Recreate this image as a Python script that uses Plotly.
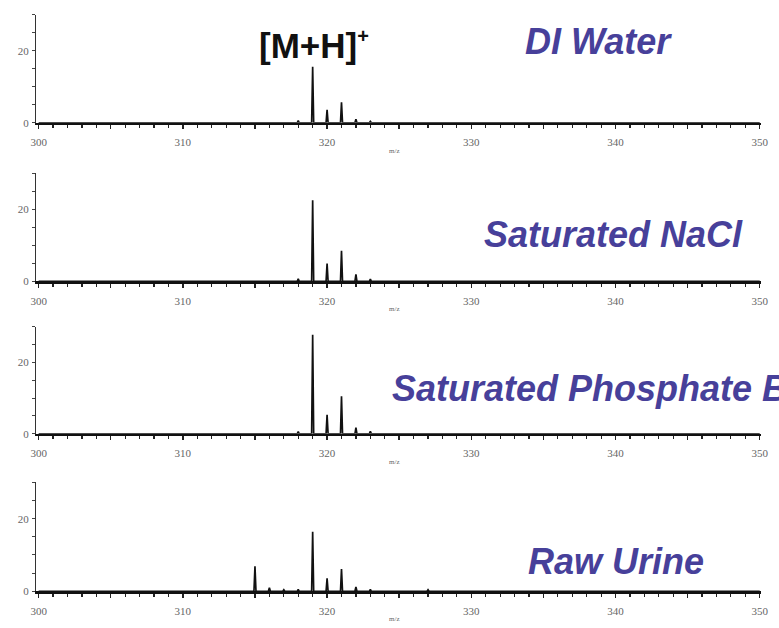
import plotly.graph_objects as go

# ---------------- data ----------------
panel_names = ["DI Water", "Saturated NaCl", "Saturated Phosphate Buffer", "Raw Urine"]

mz_water = [318, 319, 320, 321, 322, 323]
int_water = [0.6, 15.6, 3.6, 5.7, 1.0, 0.4]

mz_nacl = [318, 319, 320, 321, 322, 323]
int_nacl = [0.7, 22.5, 4.9, 8.5, 1.9, 0.6]

mz_phos = [318, 319, 320, 321, 322, 323]
int_phos = [0.6, 27.8, 5.3, 10.5, 1.7, 0.7]

mz_urine = [315, 316, 317, 318, 319, 320, 321, 322, 323, 327]
int_urine = [6.9, 1.0, 0.4, 0.5, 16.4, 3.6, 6.1, 1.2, 0.5, 0.4]

x_tickvals = [300, 305, 310, 315, 320, 325, 330, 335, 340, 345, 350]
x_ticktext = ["300", "", "310", "", "320", "", "330", "", "340", "", "350"]
y_tickvals = [0, 5, 10, 15, 20, 25, 30]
y_ticktext = ["0", "", "", "", "20", "", ""]

series = [(mz_water, int_water), (mz_nacl, int_nacl), (mz_phos, int_phos), (mz_urine, int_urine)]

# ---------------- layout geometry ----------------
W, H = 779, 628
x_dom = [31 / W, 768 / W]
panels_px = [(15, 124), (175, 284), (330, 438), (487, 597)]  # (top, baseline) in px
label_pos = [(603, 42), (618, 237), (391, 392), (620, 567)]
label_anchor = ["center", "center", "left", "center"]
LABEL_COLOR = "#47409a"

fig = go.Figure()
HW = 0.07  # half width of a stick peak in m/z units

for i, (mz, inten) in enumerate(series):
    xs, ys = [300], [0]
    for m, h in zip(mz, inten):
        xs += [m - HW, m, m + HW]
        ys += [0, h, 0]
    xs.append(350)
    ys.append(0)
    n = "" if i == 0 else str(i + 1)
    fig.add_trace(go.Scatter(x=xs, y=ys, mode="lines",
                             line=dict(color="#111111", width=1.7),
                             xaxis="x" + n, yaxis="y" + n,
                             hoverinfo="skip", showlegend=False))

layout = dict(width=W, height=H, margin=dict(l=0, r=0, t=0, b=0),
              paper_bgcolor="white", plot_bgcolor="white", showlegend=False)

tickfont = dict(family="Liberation Serif, Times New Roman, serif", size=11, color="#666666")
annotations = []
for i, (top, base) in enumerate(panels_px):
    n = "" if i == 0 else str(i + 1)
    ydom = [1 - base / H, 1 - top / H]
    layout["xaxis" + n] = dict(domain=x_dom, range=[299.85, 350.1], anchor="y" + n,
                               showline=True, linecolor="#111111", linewidth=2.4,
                               showgrid=False, zeroline=False,
                               tickmode="array", tickvals=x_tickvals, ticktext=x_ticktext,
                               ticks="outside", ticklen=4, tickwidth=1.4, tickcolor="#222222",
                               minor=dict(dtick=1, tick0=300, ticks="outside", ticklen=3,
                                          tickwidth=1.2, tickcolor="#222222", showgrid=False),
                               ticklabelstandoff=4,
                               tickfont=tickfont, fixedrange=True)
    layout["yaxis" + n] = dict(domain=ydom, range=[0, 30], anchor="x" + n,
                               showline=True, linecolor="#333333", linewidth=1.5,
                               showgrid=False, zeroline=False,
                               tickmode="array", tickvals=y_tickvals, ticktext=y_ticktext,
                               ticks="outside", ticklen=3, tickwidth=1, tickcolor="#444444",
                               ticklabelstandoff=1,
                               tickfont=tickfont, fixedrange=True)
    # m/z axis label
    annotations.append(dict(text="m/z", x=395 / W, y=1 - (base + 28) / H,
                            xref="paper", yref="paper", showarrow=False,
                            font=dict(family="Liberation Serif, serif", size=7, color="#666666"),
                            xanchor="center", yanchor="middle"))
    # sample label
    lx, ly = label_pos[i]
    annotations.append(dict(text="<b><i>" + panel_names[i] + "</i></b>",
                            x=lx / W, y=1 - ly / H, xref="paper", yref="paper",
                            showarrow=False, xanchor=label_anchor[i], yanchor="middle",
                            font=dict(family="Liberation Sans, Arial, sans-serif",
                                      size=36, color=LABEL_COLOR)))

annotations.append(dict(text="<b>[M+H]<sup><span style='font-size:20px'>+</span></sup></b>",
                        x=313 / W, y=1 - 45 / H,
                        xref="paper", yref="paper", showarrow=False,
                        xanchor="center", yanchor="middle",
                        font=dict(family="Liberation Sans, Arial, sans-serif",
                                  size=35, color="#111111")))

layout["annotations"] = annotations
fig.update_layout(**layout)
fig.write_html("out.html",
               config={"displayModeBar": False, "staticPlot": True},
               post_script="document.body.style.margin='0';document.body.style.overflow='hidden';")
